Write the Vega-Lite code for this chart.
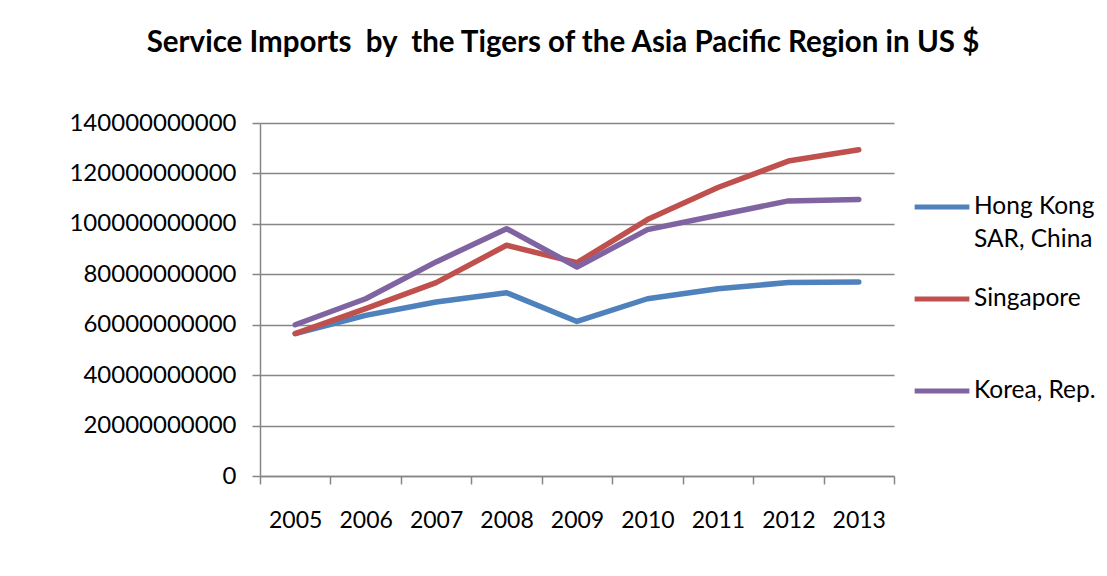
{
  "$schema": "https://vega.github.io/schema/vega-lite/v6.json",
  "autosize": {"type": "none"},
  "padding": {"left": 260, "top": 123, "right": 213, "bottom": 100},
  "width": 634,
  "height": 353,
  "background": "white",
  "title": {
    "text": "Service Imports\u00a0 by\u00a0 the Tigers of the Asia Pacific Region in US $",
    "font": "Lato",
    "fontSize": 29.5,
    "fontWeight": "bold",
    "color": "#000000",
    "anchor": "middle",
    "dx": -14,
    "offset": 53
  },
  "data": {
    "values": [
      {"year": "2005", "country": "Hong Kong SAR, China", "value": 56500000000},
      {"year": "2006", "country": "Hong Kong SAR, China", "value": 63700000000},
      {"year": "2007", "country": "Hong Kong SAR, China", "value": 69000000000},
      {"year": "2008", "country": "Hong Kong SAR, China", "value": 72700000000},
      {"year": "2009", "country": "Hong Kong SAR, China", "value": 61300000000},
      {"year": "2010", "country": "Hong Kong SAR, China", "value": 70300000000},
      {"year": "2011", "country": "Hong Kong SAR, China", "value": 74300000000},
      {"year": "2012", "country": "Hong Kong SAR, China", "value": 76700000000},
      {"year": "2013", "country": "Hong Kong SAR, China", "value": 76900000000},
      {"year": "2005", "country": "Singapore", "value": 56500000000},
      {"year": "2006", "country": "Singapore", "value": 66400000000},
      {"year": "2007", "country": "Singapore", "value": 76700000000},
      {"year": "2008", "country": "Singapore", "value": 91500000000},
      {"year": "2009", "country": "Singapore", "value": 84600000000},
      {"year": "2010", "country": "Singapore", "value": 101700000000},
      {"year": "2011", "country": "Singapore", "value": 114400000000},
      {"year": "2012", "country": "Singapore", "value": 124900000000},
      {"year": "2013", "country": "Singapore", "value": 129400000000},
      {"year": "2005", "country": "Korea, Rep.", "value": 60000000000},
      {"year": "2006", "country": "Korea, Rep.", "value": 70300000000},
      {"year": "2007", "country": "Korea, Rep.", "value": 84900000000},
      {"year": "2008", "country": "Korea, Rep.", "value": 98100000000},
      {"year": "2009", "country": "Korea, Rep.", "value": 82900000000},
      {"year": "2010", "country": "Korea, Rep.", "value": 97700000000},
      {"year": "2011", "country": "Korea, Rep.", "value": 103400000000},
      {"year": "2012", "country": "Korea, Rep.", "value": 109100000000},
      {"year": "2013", "country": "Korea, Rep.", "value": 109700000000}
    ]
  },
  "mark": {"type": "line", "strokeWidth": 5.5, "strokeCap": "round", "strokeJoin": "round"},
  "encoding": {
    "x": {
      "field": "year",
      "type": "ordinal",
      "bandPosition": 0.5,
      "scale": {"type": "band", "paddingInner": 0, "paddingOuter": 0},
      "axis": {
        "title": null,
        "labelAngle": 0,
        "tickBand": "extent",
        "grid": false,
        "domainColor": "#868686",
        "domainWidth": 1.5,
        "tickColor": "#868686",
        "tickWidth": 1.5,
        "tickSize": 8,
        "labelPadding": 25,
        "labelFont": "Lato",
        "labelFontSize": 23,
        "labelColor": "#000000"
      }
    },
    "y": {
      "field": "value",
      "type": "quantitative",
      "scale": {"domain": [0, 140000000000]},
      "axis": {
        "title": null,
        "values": [0, 20000000000, 40000000000, 60000000000, 80000000000, 100000000000, 120000000000, 140000000000],
        "format": "d",
        "grid": true,
        "gridColor": "#868686",
        "gridWidth": 1.5,
        "domainColor": "#868686",
        "domainWidth": 1.5,
        "tickColor": "#868686",
        "tickWidth": 1.5,
        "tickSize": 8,
        "labelPadding": 16,
        "labelFont": "Lato",
        "labelFontSize": 24,
        "labelColor": "#000000"
      }
    },
    "color": {
      "field": "country",
      "type": "nominal",
      "sort": ["Hong Kong SAR, China", "Singapore", "Korea, Rep."],
      "scale": {
        "domain": ["Hong Kong SAR, China", "Singapore", "Korea, Rep."],
        "range": ["#4F81BD", "#C0504D", "#8064A2"]
      },
      "legend": {
        "title": null,
        "orient": "none",
        "legendX": 652,
        "legendY": 54,
        "padding": 0,
        "symbolType": "stroke",
        "symbolSize": 3000,
        "symbolStrokeWidth": 5,
        "labelOffset": 2,
        "labelFont": "Lato",
        "labelFontSize": 24.5,
        "labelColor": "#000000",
        "labelLimit": 300,
        "rowPadding": 17,
        "labelExpr": "datum.label == 'Hong Kong SAR, China' ? ['Hong Kong', 'SAR, China'] : datum.label == 'Singapore' ? ['Singapore', ' '] : datum.label",
        "encode": {
          "labels": {"update": {"lineHeight": {"value": 33}}}
        }
      }
    }
  },
  "config": {
    "view": {"stroke": null},
    "font": "Lato"
  }
}
